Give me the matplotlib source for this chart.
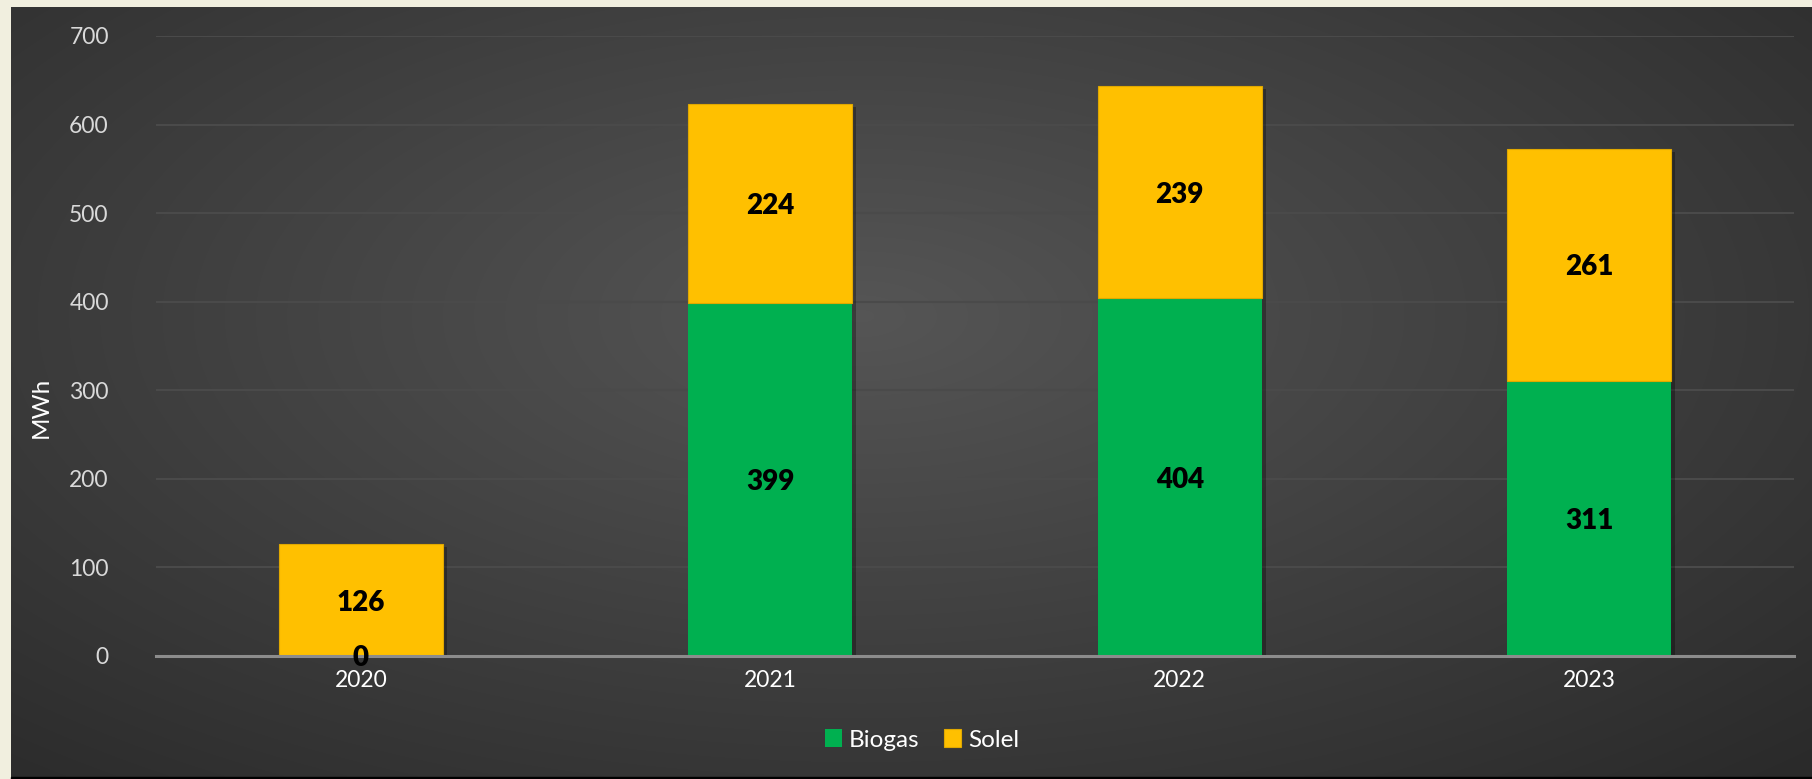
import numpy as np
import matplotlib
matplotlib.use("Agg")
import matplotlib.pyplot as plt
import matplotlib.patheffects as pe

# data
years = ["2020", "2021", "2022", "2023"]
biogas = [0, 399, 404, 311]
solel = [126, 224, 239, 261]

GREEN = "#00B050"
YELLOW = "#FFC000"

plt.rcParams['font.family'] = ['Lato', 'DejaVu Sans']

W, H = 1812, 779
fig = plt.figure(figsize=(W / 100, H / 100), dpi=100, facecolor="#f1efdf")

# dark panel with soft radial gradient
bg = fig.add_axes([11 / W, 2 / H, (W - 11) / W, (H - 9) / H])
yy, xx = np.mgrid[0:300, 0:700]
cx, cy = 330, 120
d = np.sqrt(((xx - cx) / 700) ** 2 + ((yy - cy) / 330) ** 2)
d = np.clip(d / 0.75, 0, 1)
lo, hi = np.array([0.165, 0.165, 0.165]), np.array([0.335, 0.335, 0.335])
img = hi[None, None, :] * (1 - d[..., None]) + lo[None, None, :] * d[..., None]
bg.imshow(img, aspect="auto", extent=[0, 1, 0, 1], interpolation="bilinear")
bg.set_axis_off()
# black line along the bottom
fig.add_artist(plt.Rectangle((11 / W, 0), 1, 2 / H, transform=fig.transFigure,
                             color="black", zorder=5))

ax = fig.add_axes([156 / W, 1 - 656 / H, (1794 - 156) / W, (656 - 36) / H])
ax.set_facecolor("none")

x = np.arange(len(years))
total = [b + s for b, s in zip(biogas, solel)]

# soft shadow behind the whole stack
sh = ax.bar(x, total, width=0.4, color="black", zorder=2, linewidth=0)
for p in sh:
    p.set_path_effects([pe.SimplePatchShadow(offset=(3, -2), shadow_rgbFace="black", alpha=0.3)])

b1 = ax.bar(x, biogas, width=0.4, color=GREEN, label="Biogas", zorder=3, linewidth=0)
b2 = ax.bar(x, solel, width=0.4, bottom=biogas, color=YELLOW, label="Solel", zorder=3,
            edgecolor="#e0a800", linewidth=0.8)

for i in range(len(years)):
    ax.text(x[i], biogas[i] / 2, str(biogas[i]), ha="center", va="center_baseline",
            fontsize=20, fontweight="heavy", color="black", zorder=6)
    ax.text(x[i], biogas[i] + solel[i] / 2, str(solel[i]), ha="center", va="center_baseline",
            fontsize=20, fontweight="heavy", color="black", zorder=6)

ax.set_xlim(-0.5, 3.5)
ax.set_ylim(0, 700)
ax.set_yticks(range(0, 701, 100))
ax.set_xticks(x)
ax.set_xticklabels(years)
ax.grid(axis="y", color="#4a4a4a", linewidth=1.5, zorder=0)
ax.set_axisbelow(True)
for s in ["top", "right", "left"]:
    ax.spines[s].set_visible(False)
ax.spines["bottom"].set_color("#8c8c8c")
ax.spines["bottom"].set_linewidth(2.2)
ax.spines["bottom"].set_zorder(4)
ax.tick_params(axis="both", length=0, colors="#d9d9d9", labelsize=16.5)
ax.tick_params(axis="y", pad=34)
ax.tick_params(axis="x", pad=10)
for t in ax.get_xticklabels():
    t.set_color("white")

ax.set_ylabel("MWh", color="white", fontsize=17.5)
ax.yaxis.set_label_coords(-0.0635, (656 - 407) / 620)

leg = ax.legend(handles=[b1, b2], loc="center", bbox_to_anchor=(922 / W, 1 - 740 / H),
                bbox_transform=fig.transFigure, ncol=2, frameon=False,
                fontsize=17.5, handlelength=0.7, handleheight=0.7,
                handletextpad=0.3, columnspacing=1.0)
for t in leg.get_texts():
    t.set_color("white")

fig.savefig("out.png", dpi=100, facecolor=fig.get_facecolor())
